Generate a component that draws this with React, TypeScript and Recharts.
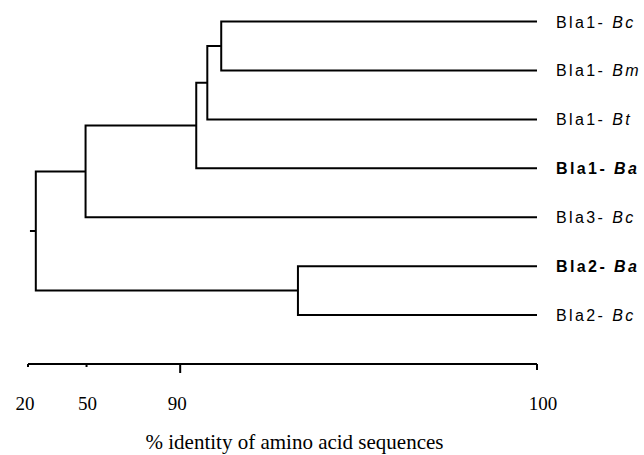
import React from 'react';
import { LineChart, Line, XAxis, YAxis } from 'recharts';

// leaves, top to bottom
const leafGenes = ['Bla1', 'Bla1', 'Bla1', 'Bla1', 'Bla3', 'Bla2', 'Bla2'];
const leafSpecies = ['Bc', 'Bm', 'Bt', 'Ba', 'Bc', 'Ba', 'Bc'];
const leafIdentity = 100;

// merges: node ids 0..6 are leaves, 7.. are the merges in this order
const mergeLeft = [0, 7, 8, 9, 5, 10];
const mergeRight = [1, 2, 3, 4, 6, 11];
const mergeIdentity = [91.15, 90.76, 90.45, 49.5, 93.3, 24];
const rootStemIdentity = 21;

const identityTicks = [20, 50, 90, 100];

// the printed axis is not linear, every tick sits at its own stop
const axisStops = [0, 11.5, 29.9, 100];

function toAxis(v: number) {
    for (let i = 1; i < identityTicks.length; i++) {
        if (v <= identityTicks[i]) {
            const a = identityTicks[i - 1], b = identityTicks[i];
            return axisStops[i - 1] + ((v - a) / (b - a)) * (axisStops[i] - axisStops[i - 1]);
        }
    }
    return axisStops[axisStops.length - 1];
}

const nodeX: number[] = leafSpecies.map(() => toAxis(leafIdentity));
const nodeY: number[] = leafSpecies.map((_, i) => i);
mergeIdentity.forEach((v, k) => {
    nodeX.push(toAxis(v));
    nodeY.push((nodeY[mergeLeft[k]] + nodeY[mergeRight[k]]) / 2);
});

const brackets = mergeIdentity.map((_, k) => {
    const a = mergeLeft[k];
    const b = mergeRight[k];
    const n = leafSpecies.length + k;
    return [
        { x: nodeX[a], y: nodeY[a] },
        { x: nodeX[n], y: nodeY[a] },
        { x: nodeX[n], y: nodeY[b] },
        { x: nodeX[b], y: nodeY[b] },
    ];
});
const rootId = nodeX.length - 1;
brackets.push([
    { x: toAxis(rootStemIdentity), y: nodeY[rootId] },
    { x: nodeX[rootId], y: nodeY[rootId] },
]);

const serif = '"Liberation Serif", "Times New Roman", serif';
const sans = '"Liberation Sans", Arial, sans-serif';
const tickLengths = [3, 3, 9, 6];
const tickShift = [-3, 1, -3, 6];

const IdentityTick = (props: any) => {
    const { x, y, index } = props;
    return (
        <g>
            <line x1={x} x2={x} y1={y} y2={y + tickLengths[index]} stroke="#000" strokeWidth={2} />
            <text x={x + tickShift[index]} y={y + 39} textAnchor="middle" dominantBaseline="central" fontFamily={serif} fontSize={19} fill="#000">
                {identityTicks[index]}
            </text>
        </g>
    );
};

const LeafTick = (props: any) => {
    const { y, payload } = props;
    const i = payload.value as number;
    const bold = leafSpecies[i] === 'Ba';
    return (
        <text x={556} y={y} dominantBaseline="central" fontFamily={sans} fontSize={16} letterSpacing={2.4}
            fontWeight={bold ? 'bold' : 'normal'} fill="#000">
            <tspan>{leafGenes[i] + '- '}</tspan>
            <tspan fontStyle="italic">{leafSpecies[i]}</tspan>
        </text>
    );
};

export default function App() {
    return (
        <div style={{ position: 'absolute', left: 0, top: 0, background: '#fff' }}>
            <LineChart width={644} height={455} margin={{ top: 2, right: 0, left: 28, bottom: 0 }}>
                <XAxis
                    type="number"
                    dataKey="x"
                    domain={[0, 100]}
                    ticks={axisStops}
                    interval={0}
                    height={91}
                    tickSize={0}
                    tickMargin={0}
                    tickLine={false}
                    axisLine={{ stroke: '#000', strokeWidth: 2 }}
                    tick={<IdentityTick />}
                    label={{
                        value: '% identity of amino acid sequences',
                        position: 'insideBottom',
                        offset: 6,
                        dx: 12,
                        fill: '#000',
                        fontFamily: serif,
                        fontSize: 21,
                    }}
                />
                <YAxis
                    type="number"
                    dataKey="y"
                    orientation="right"
                    width={107}
                    domain={[-0.4, 7]}
                    reversed
                    ticks={leafSpecies.map((_, i) => i)}
                    interval={0}
                    axisLine={false}
                    tickLine={false}
                    tick={<LeafTick />}
                />
                {brackets.map((pts, k) => (
                    <Line
                        key={k}
                        data={pts}
                        dataKey="y"
                        type="linear"
                        stroke="#000"
                        strokeWidth={2}
                        dot={false}
                        activeDot={false}
                        isAnimationActive={false}
                    />
                ))}
            </LineChart>
        </div>
    );
}
